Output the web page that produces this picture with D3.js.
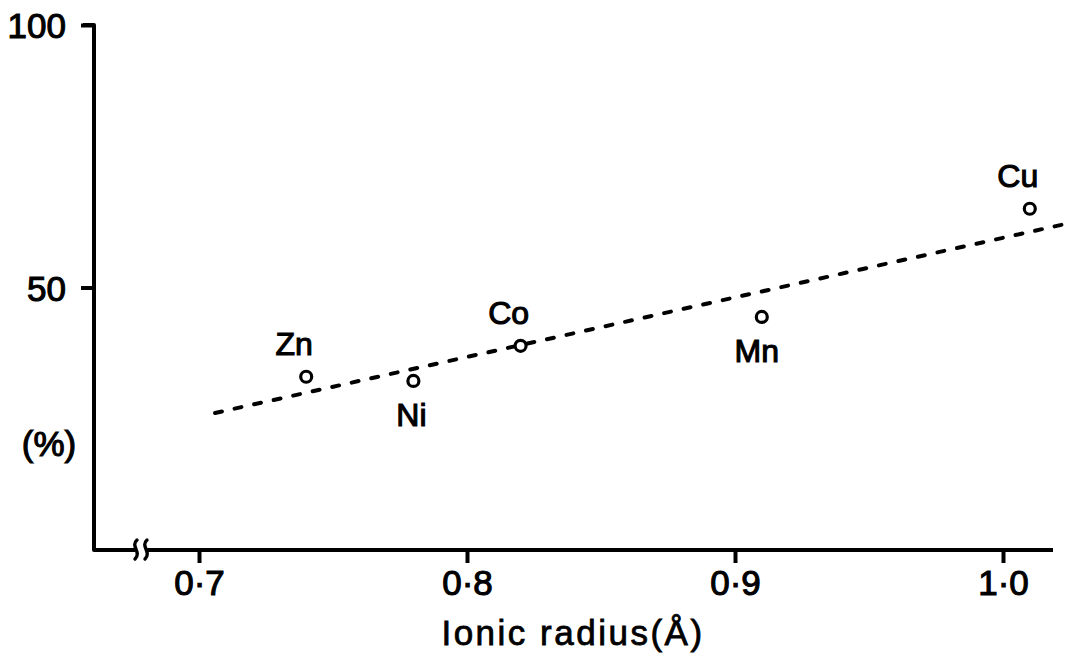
<!DOCTYPE html>
<html>
<head>
<meta charset="utf-8">
<script src="https://cdn.jsdelivr.net/npm/d3@7"></script>
<style>
  body { margin: 0; background: #fff; }
  svg text { font-family: "Liberation Sans", Arial, sans-serif; fill: #000; stroke: #000; stroke-width: 1.1px; }
</style>
</head>
<body>
<svg id="chart" width="1070" height="657"></svg>
<script>
// data
var elements = ["Zn", "Ni", "Co", "Mn", "Cu"];
var radius = [0.74, 0.78, 0.82, 0.91, 1.01];
var percent = [33.0, 32.2, 38.9, 44.4, 65.0];
var labelPos = ["above", "below", "above", "below", "above"];

// dashed fit line end points
var fitX = [0.706, 1.025];
var fitY = [26.1, 62.3];

var xTicks = [0.7, 0.8, 0.9, 1.0];
var yTicks = [50, 100];

var svg = d3.select("#chart");

var x = d3.scaleLinear().domain([0.7, 1.0]).range([199, 1003]);
var y = d3.scaleLinear().domain([0, 100]).range([550, 25]);

var axisLeft = 94;
var axisRight = 1053;

// y axis
var yAxis = svg.append("g")
  .attr("transform", "translate(" + axisLeft + ",0)")
  .call(d3.axisLeft(y).tickValues(yTicks).tickSize(13).tickPadding(15).tickFormat(d3.format("d")));
yAxis.select(".domain").remove();
yAxis.selectAll(".tick line").attr("stroke", "#000").attr("stroke-width", 4);
yAxis.selectAll(".tick text")
  .style("font-size", "35px")
  .attr("dy", "0.36em");

// x axis
var xAxis = svg.append("g")
  .attr("transform", "translate(0," + y(0) + ")")
  .call(d3.axisBottom(x).tickValues(xTicks).tickSize(13).tickPadding(5)
    .tickFormat(function (d) { return d3.format(".1f")(d).replace(".", "\u00b7"); }));
xAxis.select(".domain").remove();
xAxis.selectAll(".tick line").attr("stroke", "#000").attr("stroke-width", 4);
xAxis.selectAll(".tick text")
  .style("font-size", "35px")
  .attr("dy", "0.78em");

// axis lines (L shape)
svg.append("path")
  .attr("d", "M" + (axisLeft - 11) + "," + y(100) + "H" + axisLeft + "V" + y(0) + "H" + axisRight)
  .attr("fill", "none")
  .attr("stroke", "#000")
  .attr("stroke-width", 4)
  .attr("stroke-linejoin", "round");

// axis break
var bx = 141, by = y(0);
svg.append("rect")
  .attr("x", bx - 6).attr("y", by - 4)
  .attr("width", 12).attr("height", 8)
  .attr("fill", "#fff");
[-5, 5].forEach(function (o) {
  svg.append("path")
    .attr("d", "M" + (bx + o + 1) + "," + (by - 10) +
      "C" + (bx + o - 6) + "," + (by - 4) + " " + (bx + o + 6) + "," + (by + 2) + " " + (bx + o - 1) + "," + (by + 9))
    .attr("fill", "none")
    .attr("stroke", "#000")
    .attr("stroke-width", 3.4)
    .attr("stroke-linecap", "round");
});

// dashed fit line
svg.append("line")
  .attr("x1", x(fitX[0])).attr("y1", y(fitY[0]))
  .attr("x2", x(fitX[1])).attr("y2", y(fitY[1]))
  .attr("stroke", "#000")
  .attr("stroke-width", 4)
  .attr("stroke-linecap", "round")
  .attr("stroke-dasharray", "7,13");

// points
svg.selectAll("circle.pt")
  .data(elements)
  .enter().append("circle")
  .attr("class", "pt")
  .attr("cx", function (d, i) { return x(radius[i]); })
  .attr("cy", function (d, i) { return y(percent[i]); })
  .attr("r", 5.5)
  .attr("fill", "#fff")
  .attr("stroke", "#000")
  .attr("stroke-width", 3.2);

// element labels
svg.selectAll("text.el")
  .data(elements)
  .enter().append("text")
  .attr("class", "el")
  .attr("x", function (d, i) { return x(radius[i]) - (i === 3 ? 5 : 12) + (i === 1 ? 10 : 0); })
  .attr("y", function (d, i) { return y(percent[i]) + (labelPos[i] === "above" ? -22 : 45); })
  .attr("text-anchor", "middle")
  .style("font-size", "32px")
  .text(function (d) { return d; });

// axis titles
svg.append("text")
  .attr("x", 573)
  .attr("y", 645)
  .attr("text-anchor", "middle")
  .style("font-size", "35px")
  .style("letter-spacing", "2.5px")
  .style("stroke-width", "0.8px")
  .text("Ionic radius(\u00c5)");

svg.append("text")
  .attr("x", 49)
  .attr("y", 456)
  .attr("text-anchor", "middle")
  .style("font-size", "35px")
  .text("(%)");
</script>
</body>
</html>
